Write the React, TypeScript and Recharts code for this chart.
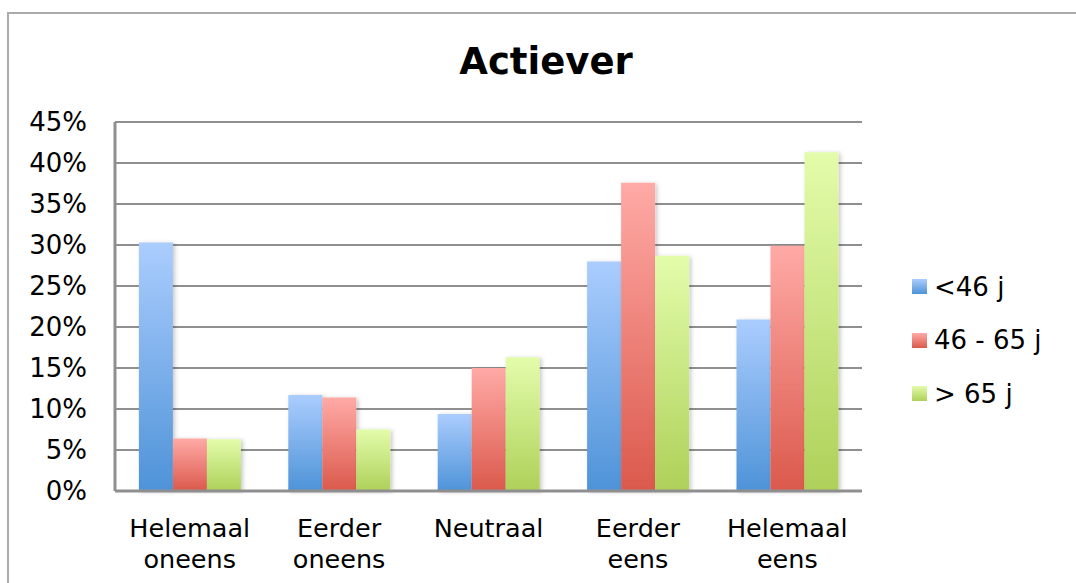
import React from "react";
import {
  BarChart,
  Bar,
  XAxis,
  YAxis,
  CartesianGrid,
} from "recharts";

const categories = [
  "Helemaal oneens",
  "Eerder oneens",
  "Neutraal",
  "Eerder eens",
  "Helemaal eens",
];
const under46 = [30.3, 11.7, 9.4, 28.0, 20.9];
const from46to65 = [6.4, 11.4, 15.0, 37.6, 29.9];
const over65 = [6.3, 7.5, 16.3, 28.7, 41.3];
const yTicks = [0, 5, 10, 15, 20, 25, 30, 35, 40, 45];

const series = [
  { key: "a", name: "<46 j", top: "#abcdfe", bottom: "#4e93d8" },
  { key: "b", name: "46 - 65 j", top: "#ffaaa6", bottom: "#db594c" },
  { key: "c", name: "> 65 j", top: "#e3fcab", bottom: "#aed159" },
];

const data = categories.map((name, i) => ({
  name,
  a: under46[i],
  b: from46to65[i],
  c: over65[i],
}));

const FONT = "'DejaVu Sans', Verdana, sans-serif";

const CategoryTick = (props: any) => {
  const { x, y, payload } = props;
  const lines = String(payload.value).split(" ");
  return (
    <text x={x} y={y} textAnchor="middle" fontSize={25.5} fill="#000" fontFamily={FONT}>
      {lines.map((l, i) => (
        <tspan key={i} x={x} y={y + 44 + i * 31}>
          {l}
        </tspan>
      ))}
    </text>
  );
};

// legend sits right of the plot, outside the chart's layout box
const LegendBox = () => (
  <div
    style={{
      position: "absolute",
      left: 912,
      top: 260,
      fontFamily: FONT,
      fontSize: 26,
      color: "#000",
    }}
  >
    {series.map((s) => (
      <div
        key={s.key}
        style={{ height: 53.5, display: "flex", alignItems: "center" }}
      >
        <span
          style={{
            width: 15,
            height: 15,
            marginRight: 7,
            background: `linear-gradient(${s.top}, ${s.bottom})`,
          }}
        />
        <span>{s.name}</span>
      </div>
    ))}
  </div>
);

export default function App() {
  return (
    <div
      style={{
        position: "absolute",
        left: 0,
        top: 0,
        width: 1076,
        height: 583,
        overflow: "hidden",
        background: "#fff",
      }}
    >
      <div
        style={{
          position: "absolute",
          left: 7,
          top: 12,
          width: 1100,
          height: 600,
          border: "2px solid #ababab",
        }}
      />
      <div
        style={{
          position: "absolute",
          left: 0,
          width: 1092,
          top: 40,
          textAlign: "center",
          fontFamily: FONT,
          fontWeight: "bold",
          fontSize: 37,
          lineHeight: "44px",
        }}
      >
        Actiever
      </div>
      <div style={{ position: "absolute", left: 0, top: 0 }}>
        <BarChart
          width={1076}
          height={583}
          data={data}
          margin={{ top: 122, right: 214, bottom: 0, left: 0 }}
          barCategoryGap="16%"
          barGap={0}
        >
          <defs>
            {series.map((s) => (
              <linearGradient key={s.key} id={`grad-${s.key}`} x1="0" y1="0" x2="0" y2="1">
                <stop offset="0%" stopColor={s.top} />
                <stop offset="100%" stopColor={s.bottom} />
              </linearGradient>
            ))}
            <filter id="barShadow" x="-20%" y="-5%" width="140%" height="110%">
              <feDropShadow dx="2" dy="1" stdDeviation="2" floodColor="#000" floodOpacity="0.22" />
            </filter>
          </defs>
          <CartesianGrid vertical={false} stroke="#8f8f8f" strokeWidth={2} />
          <XAxis
            dataKey="name"
            tick={<CategoryTick />}
            tickLine={false}
            tickSize={0}
            height={92}
            axisLine={{ stroke: "#8f8f8f", strokeWidth: 3 }}
            interval={0}
          />
          <YAxis
            width={115}
            domain={[0, 45]}
            ticks={yTicks}
            interval={0}
            tickFormatter={(v) => `${v}%`}
            tickLine={false}
            tickSize={0}
            tickMargin={28}
            axisLine={{ stroke: "#8f8f8f", strokeWidth: 3 }}
            tick={{ fontSize: 26, fill: "#000", fontFamily: FONT }}
          />
          {series.map((s) => (
            <Bar
              key={s.key}
              dataKey={s.key}
              name={s.name}
              fill={`url(#grad-${s.key})`}
              filter="url(#barShadow)"
              isAnimationActive={false}
            />
          ))}
        </BarChart>
      </div>
      <LegendBox />
    </div>
  );
}
